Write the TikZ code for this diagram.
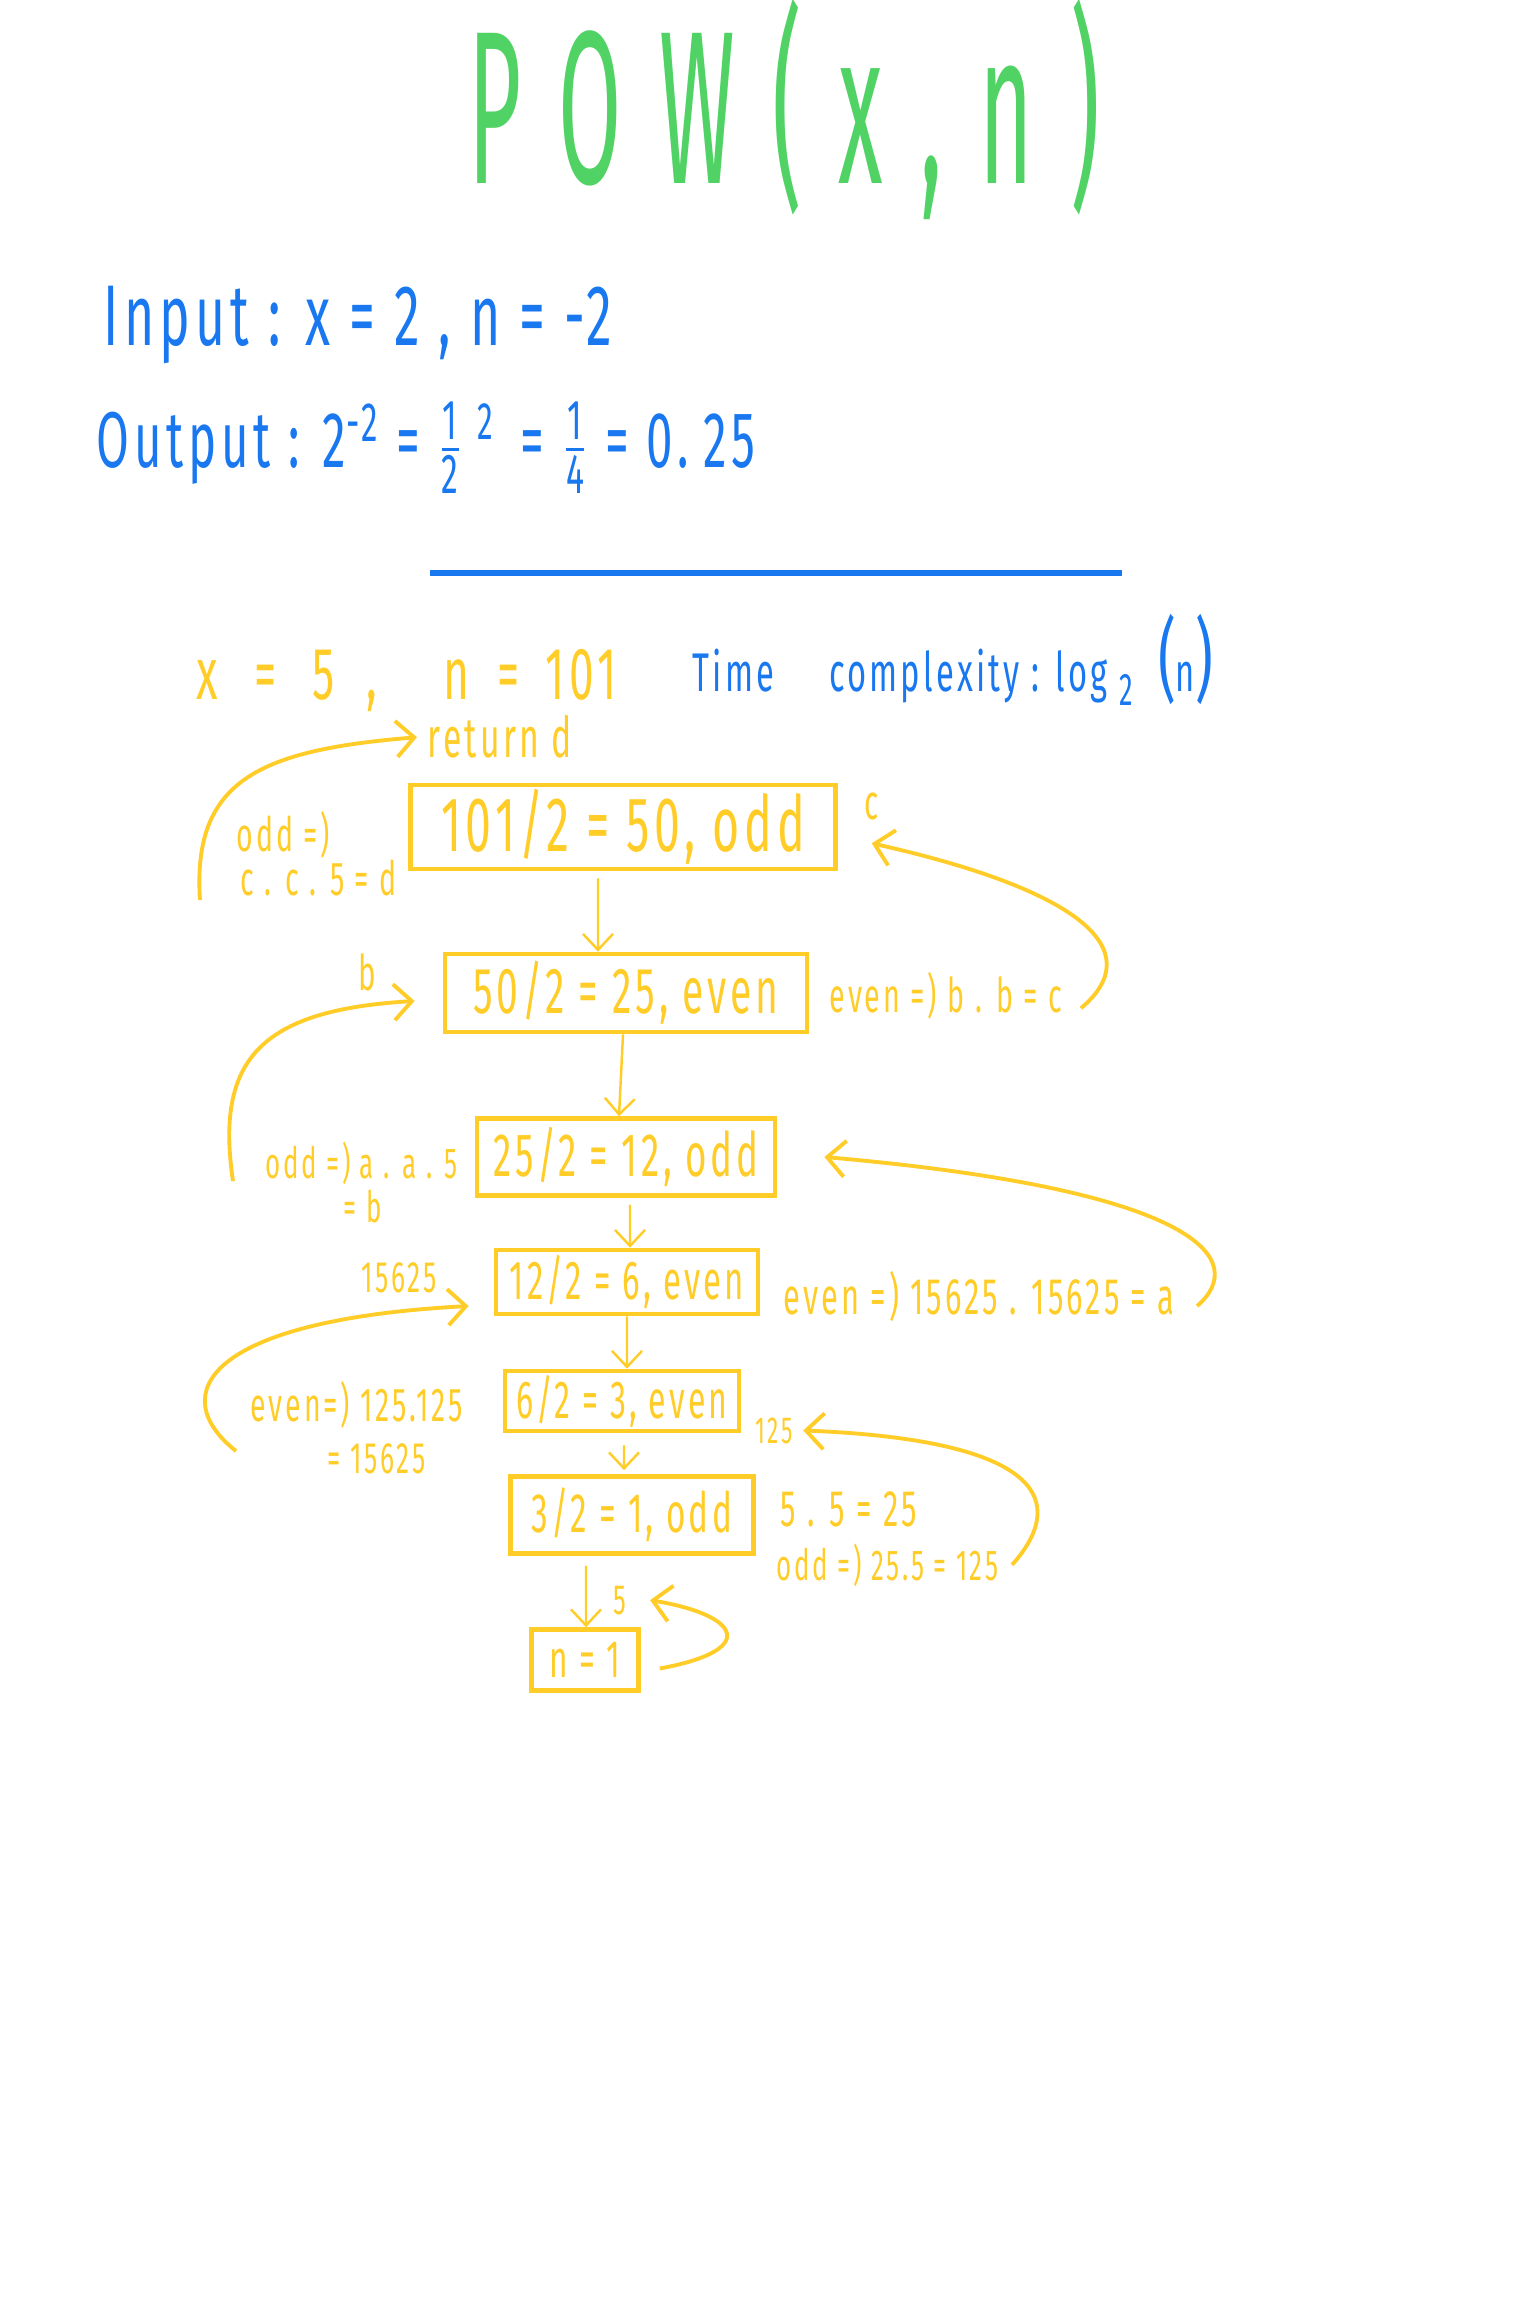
\documentclass[tikz,border=0pt]{standalone}
\usepackage{tikz}
\usetikzlibrary{arrows.meta}
\usepackage{amsmath}
\usepackage{fontspec}
\newfontfamily\hand[FakeStretch=0.6, LetterSpace=6]{Fira Sans}
\newfontfamily\bighand[FakeStretch=0.42, LetterSpace=17]{Fira Sans}
\definecolor{penGreen}{RGB}{80,210,100}
\definecolor{penBlue}{RGB}{25,120,240}
\definecolor{penYellow}{RGB}{255,204,40}
\newcommand{\hfrac}[2]{$\frac{\text{\fontsize{16}{16}\selectfont #1}}{\text{\fontsize{16}{16}\selectfont #2}}$}

\begin{document}
\begin{tikzpicture}[
    x=0.01cm, y=-0.01cm,
    fs/.style={font=\hand\fontsize{#1}{#1}\selectfont},
    box/.style={draw=penYellow, line width=1.3pt, text=penYellow, inner sep=0pt},
    note/.style={text=penYellow, anchor=base west, inner sep=0pt},
    ink/.style={text=penBlue, anchor=base west, inner sep=0pt},
    arrow/.style={-{Straight Barb[length=1.8mm, width=3.6mm]}, penYellow, line width=1.1pt},
    down/.style={-{Straight Barb[length=1.6mm, width=3mm]}, penYellow, line width=0.7pt}
]
\useasboundingbox (0,0) rectangle (1536,2310);

% Heading
\node (title) [anchor=base west, inner sep=0pt, text=penGreen, font=\bighand\fontsize{62}{62}\selectfont] at (468,184) {POW(x,n)};
\node (input) [ink, fs=24.5] at (103,346) {Input : x = 2 , n = -2};
\node (output) [ink, fs=22.5] at (96,468) {Output : 2\textsuperscript{-2} = \hfrac{1}{2}\hspace{1.5mm}\raisebox{2.8mm}{\fontsize{15}{15}\selectfont 2}\hspace{1mm} = \hfrac{1}{4} = 0.\hspace{1.5mm}25};
\draw [penBlue, line width=1.5pt] (430,573) -- (1122,573);

\node (xn) [note, fs=21] at (196,700) {x\hspace{3.6mm}=\hspace{3.6mm}5\hspace{3.2mm},\hspace{6.6mm}n\hspace{2.8mm}=\hspace{2.6mm}101};
\node (tc) [ink, fs=15.5] at (692,692) {Time\quad complexity : log\hspace{1.2mm}\raisebox{-1.3mm}{\fontsize{13}{13}\selectfont 2}\hspace{2.5mm}{\fontsize{26}{26}\selectfont(}n{\fontsize{26}{26}\selectfont)}};

% Nodes
\node (b1) [box, minimum width=4.25cm, minimum height=0.84cm, fs=22] at (623,827) {101/2 = 50, odd};
\node (b2) [box, minimum width=3.62cm, minimum height=0.78cm, fs=18.5] at (626,993) {50/2 = 25, even};
\node (b3) [box, minimum width=2.98cm, minimum height=0.77cm, fs=17.4] at (626,1157) {25/2 = 12, odd};
\node (b4) [box, minimum width=2.62cm, minimum height=0.64cm, fs=15.6] at (627,1282) {12/2 = 6, even};
\node (b5) [box, minimum width=2.34cm, minimum height=0.60cm, fs=15.2] at (622,1401) {6/2 = 3, even};
\node (b6) [box, minimum width=2.43cm, minimum height=0.77cm, fs=15.8] at (632,1515) {3/2 = 1, odd};
\node (b7) [box, minimum width=1.07cm, minimum height=0.61cm, fs=15] at (585,1660) {n = 1};

\node (retd) [note, fs=16] at (427,758) {return d};
\node (oddd) [note, fs=13.5] at (236,851) {odd =)};
\node (ccd) [note, fs=13.5] at (240,895) {c . c . 5 = d};
\node (lc) [note, fs=14] at (864,819) {c};
\node (lb) [note, fs=14] at (358,990) {b};
\node (bbc) [note, fs=13.6] at (829,1012) {even =) b . b = c};
\node (aa5) [note, fs=12.3] at (265,1178) {odd =) a . a . 5};
\node (eqb) [note, fs=12.3] at (343,1222) {= b};
\node (l15625) [note, fs=12.5] at (361,1292) {15625};
\node (aaa) [note, fs=14.6] at (783,1314) {even =) 15625 . 15625 = a};
\node (e125) [note, fs=13.5] at (250,1421) {even=) 125.125};
\node (eq15625) [note, fs=12.5] at (327,1473) {= 15625};
\node (l125) [note, fs=10.7] at (755,1443) {125};
\node (p25) [note, fs=14.6] at (780,1526) {5 . 5 = 25};
\node (o125) [note, fs=12.3] at (776,1580) {odd =) 25.5 = 125};
\node (l5) [note, fs=12] at (613,1614) {5};

% Edges
\draw [down] ([xshift=-2.5mm, yshift=-0.7mm]b1.south) -- ([xshift=-2.8mm]b2.north);
\draw [down] ([xshift=-0.3mm]b2.south) -- ([xshift=-0.7mm]b3.north);
\draw [down] ([xshift=0.4mm, yshift=-0.7mm]b3.south) -- ([xshift=0.3mm]b4.north);
\draw [down] (b4.south) -- ([xshift=0.5mm]b5.north);
\draw [down] ([xshift=0.2mm, yshift=-1.2mm]b5.south) -- ([xshift=-0.8mm, yshift=0.4mm]b6.north);
\draw [down] ([xshift=-4.6mm, yshift=-1mm]b6.south) -- ([xshift=0.1mm]b7.north);

\draw [arrow] ([shift={(-0.4cm,-0.05cm)}]ccd.base west) .. controls (192,780) and (260,750) .. ([xshift=-1mm]retd.west);
\draw [arrow] ([shift={(0.18cm,-0.13cm)}]bbc.east) .. controls (1150,950) and (1080,890) .. ([yshift=-2.3mm]lc.south);
\draw [arrow] ([shift={(-0.32cm,-0.03cm)}]aa5.base west) .. controls (215,1060) and (260,1010) .. ([xshift=-2.8mm, yshift=-0.8mm]b2.west);
\draw [arrow] ([shift={(0.22cm,-0.1cm)}]aaa.east) .. controls (1250,1260) and (1200,1190) .. ([xshift=4.7mm]b3.east);
\draw [arrow] ([shift={(-0.14cm,-0.3cm)}]e125.base west) .. controls (165,1395) and (205,1320) .. ([shift={(-0.25cm,-0.24cm)}]b4.west);
\draw [arrow] ([xshift=1.3mm]o125.east) .. controls (1070,1500) and (1040,1440) .. ([xshift=1mm]l125.east);
\draw [arrow] ([shift={(0.19cm,-0.085cm)}]b7.east) .. controls (760,1650) and (740,1615) .. ([xshift=2.3mm]l5.east);

\end{tikzpicture}
\end{document}
